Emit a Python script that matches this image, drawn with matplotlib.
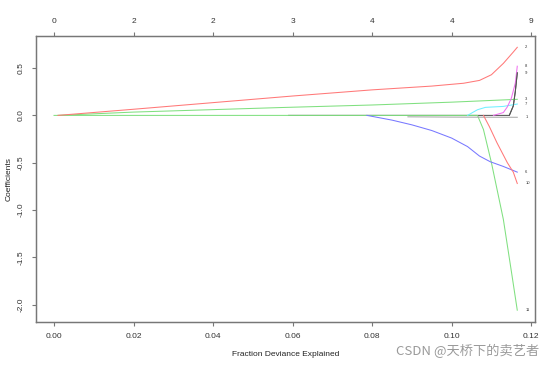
import matplotlib.pyplot as plt
import numpy as np

plt.rcParams['font.family'] = ['Liberation Sans', 'DejaVu Sans']

# fraction deviance explained ticks and degrees of freedom on the top axis
dev_ticks = [0.00, 0.02, 0.04, 0.06, 0.08, 0.10, 0.12]
df_labels = ['0', '2', '2', '3', '4', '4', '9']
coef_ticks = [0.5, 0.0, -0.5, -1.0, -1.5, -2.0]

# coefficient paths (variable number -> x, y)
x2 = [0.001, 0.02, 0.04, 0.06, 0.08, 0.095, 0.103, 0.107, 0.110, 0.113, 0.1155, 0.1165]
y2 = [0.0, 0.065, 0.135, 0.205, 0.27, 0.31, 0.34, 0.37, 0.43, 0.55, 0.67, 0.72]

x3 = [0.001, 0.02, 0.057, 0.08, 0.10, 0.1165]
y3 = [0.0, 0.035, 0.083, 0.11, 0.14, 0.17]

x7 = [0.104, 0.1065, 0.1085, 0.113, 0.1165]
y7 = [0.0, 0.06, 0.085, 0.095, 0.12]

x8 = [0.1105, 0.113, 0.114, 0.115, 0.116, 0.1165]
y8 = [0.0, 0.03, 0.09, 0.18, 0.34, 0.52]

x9 = [0.059, 0.08, 0.10, 0.1145, 0.1155, 0.116, 0.1165]
y9 = [0.0, 0.0, 0.0, 0.0, 0.1, 0.25, 0.45]

x1 = [0.089, 0.10, 0.1165]
y1 = [-0.015, -0.018, -0.02]

x6 = [0.0787, 0.085, 0.09, 0.095, 0.10, 0.104, 0.107, 0.1097, 0.113, 0.1165]
y6 = [0.0, -0.05, -0.1, -0.16, -0.24, -0.33, -0.43, -0.49, -0.54, -0.6]

x10 = [0.108, 0.1095, 0.1114, 0.114, 0.1155, 0.1165]
y10 = [0.0, -0.12, -0.29, -0.5, -0.6, -0.72]

x11 = [0.0, 0.05, 0.1065, 0.108, 0.110, 0.113, 0.1152, 0.1165]
y11 = [0.0, 0.0, 0.0, -0.15, -0.5, -1.1, -1.7, -2.06]

paths = [
    ('9', x9, y9, '#555555'),
    ('11', x11, y11, '#80E080'),
    ('3', x3, y3, '#80E080'),
    ('2', x2, y2, '#FF7878'),
    ('1', x1, y1, '#A8A8A8'),
    ('6', x6, y6, '#7878FF'),
    ('7', x7, y7, '#70F0FF'),
    ('10', x10, y10, '#FF7878'),
    ('8', x8, y8, '#F070F0'),
]

fig = plt.figure(figsize=(5.54, 3.67), dpi=100)
ax = fig.add_axes([0.065, 0.1226, 0.901, 0.7794])

for name, xs, ys, col in paths:
    ax.plot(xs, ys, color=col, lw=0.75)
for name, xs, ys, col in paths:
    if xs[-1] > 0.116:
        ax.text(0.1185, ys[-1], name, fontsize=3, color='#333333',
                ha='left', va='center')
# black path drawn on top near the end
ax.plot(x9[-4:], y9[-4:], color='#555555', lw=0.75)

ax.set_xlim(-0.00453, 0.121)
ax.set_ylim(-2.185, 0.84)

ax.set_xticks(dev_ticks)
ax.set_xticklabels(['%.2f' % t for t in dev_ticks])
ax.set_yticks(coef_ticks)
ax.set_yticklabels(['%.1f' % t for t in coef_ticks], rotation=90, va='center')
ax.tick_params(direction='out', length=3, width=0.8, color='#777777',
               labelsize=6, labelcolor='#333333', pad=5)

top = ax.twiny()
top.set_xlim(ax.get_xlim())
top.set_xticks(dev_ticks)
top.set_xticklabels(df_labels)
top.tick_params(direction='out', length=3, width=0.8, color='#777777',
                labelsize=6, labelcolor='#333333', pad=5)

for a in (ax, top):
    for s in a.spines.values():
        s.set_color('#777777')
        s.set_linewidth(0.9)

ax.set_xlabel('Fraction Deviance Explained', fontsize=6, color='#222222', labelpad=8)
ax.set_ylabel('Coefficients', fontsize=6, color='#222222', labelpad=4)

fig.text(0.973, 0.045, 'CSDN @天桥下的卖艺者', fontsize=9.5, color='#9A9A9A',
         ha='right', va='center', family=['Noto Sans CJK SC', 'DejaVu Sans'])

fig.savefig('out.png', dpi=100)
